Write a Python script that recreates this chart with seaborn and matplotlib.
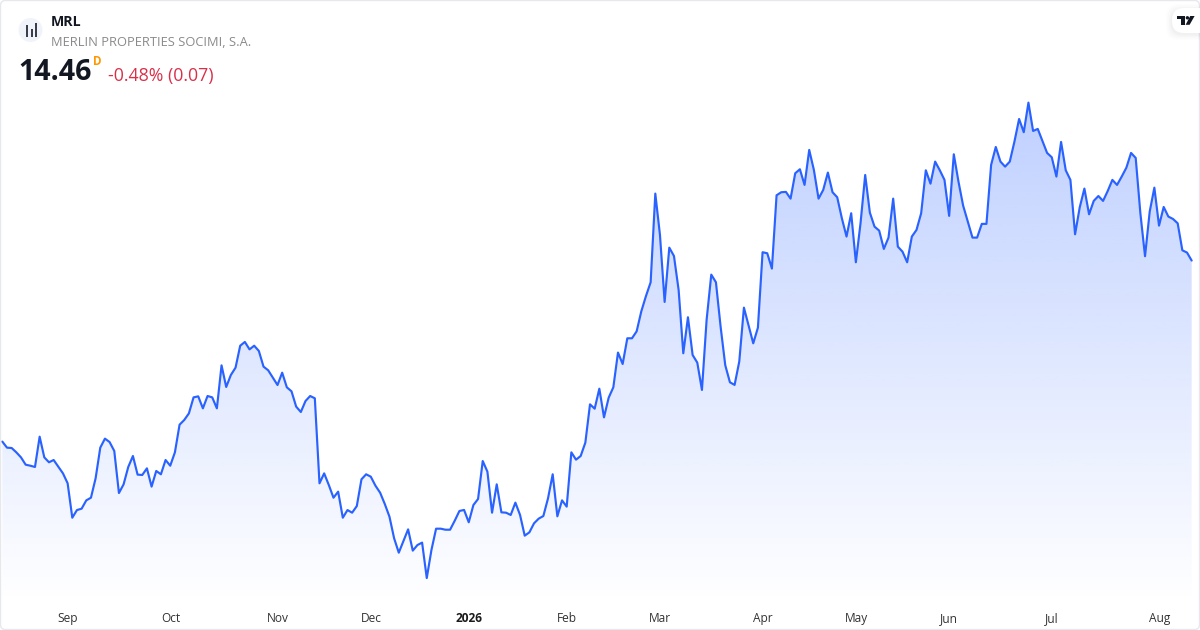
import numpy as np
import pandas as pd
import matplotlib
matplotlib.use("Agg")
import matplotlib.pyplot as plt
import seaborn as sns
from matplotlib.patches import Rectangle, Circle, Polygon, FancyBboxPatch
from matplotlib.transforms import Affine2D
from matplotlib.colors import to_rgb

# ---- data -------------------------------------------------------------
ticker = "MRL"
company = "MERLIN PROPERTIES SOCIMI, S.A."
last_price = "14.46"
interval = "D"
change_text = "-0.48% (0.07)"
prices = [
    12.877,12.824,12.821,12.783,12.739,12.675,12.666,12.655,12.920,12.739,12.696,12.716,12.658,12.599,12.512,
    12.211,12.278,12.290,12.363,12.386,12.556,12.824,12.903,12.873,12.795,12.427,12.503,12.655,12.751,12.588,
    12.585,12.643,12.483,12.620,12.591,12.716,12.666,12.783,13.025,13.066,13.124,13.264,13.273,13.168,13.276,
    13.264,13.168,13.544,13.355,13.460,13.524,13.716,13.749,13.684,13.716,13.670,13.533,13.501,13.436,13.372,
    13.480,13.352,13.317,13.183,13.136,13.232,13.276,13.256,12.512,12.599,12.497,12.386,12.439,12.211,12.278,
    12.255,12.313,12.547,12.591,12.570,12.491,12.430,12.331,12.220,12.031,
    11.905,12.007,12.109,11.923,11.972,11.993,11.683,11.928,12.115,12.115,12.106,12.106,12.185,12.270,12.279,
    12.171,12.322,12.375,12.707,12.614,12.255,12.503,12.258,12.255,12.235,12.343,12.235,12.054,12.083,12.162,
    12.203,12.226,12.381,12.591,12.223,12.363,12.308,12.783,12.719,12.751,12.868,13.203,13.165,13.340,13.089,
    13.261,13.352,
    13.656,13.556,13.781,13.781,13.842,14.017,14.151,14.271,15.047,14.685,14.099,14.574,14.501,14.204,13.650,
    13.965,13.635,13.568,13.329,13.942,14.338,14.271,13.883,13.545,13.396,13.373,13.577,14.049,13.892,13.737,
    13.874,14.534,14.525,14.391,15.032,15.059,15.062,15.003,15.225,15.260,15.123,15.429,15.254,15.003,15.079,
    15.231,15.059,15.015,14.831,14.671,14.875,14.446,14.787,15.210,14.881,14.758,14.723,
    14.563,14.662,15.003,14.583,14.539,14.446,14.671,14.729,14.875,15.251,15.134,15.327,15.251,15.167,14.852,
    15.391,15.152,14.942,14.802,14.662,14.662,14.782,14.782,15.298,15.455,15.327,15.283,15.327,15.502,15.700,
    15.584,15.843,15.595,15.613,15.508,15.403,15.365,15.196,15.499,15.251,15.167,14.691,14.927,15.091,14.866,
    14.983,15.026,14.983,15.070,15.167,15.123,15.196,15.274,15.403,15.359,14.875,14.499,14.889,15.099,14.767,
    14.930,14.846,14.825,14.787,14.551,14.531,14.461,
]
tick_labels = ["Sep", "Oct", "Nov", "Dec", "2026", "Feb", "Mar", "Apr", "May", "Jun", "Jul", "Aug"]
tick_sessions = [14, 36, 59, 79, 100, 121, 141, 163, 183, 203, 225, 248]

# ---- style ------------------------------------------------------------
sns.set_theme(style="white")
plt.rcParams["font.family"] = ["Open Sans", "DejaVu Sans"]
LINE = "#2962FF"
W, H = 1200, 630
AX_BOTTOM = 604

df = pd.DataFrame({"session": np.arange(len(prices)), "price": prices})

fig = plt.figure(figsize=(12, 6.3), dpi=100, facecolor="white")
ax = fig.add_axes([0, (H - AX_BOTTOM) / H, 1, AX_BOTTOM / H])
ax.set_facecolor("none")

xlim = (-0.5, 256.785)
ylim = (11.456, 16.741)

# gradient area under the line
poly = ax.fill_between(df["session"], df["price"], ylim[0], color="none", lw=0)
rgb = to_rgb(LINE)
n = 256
grad = np.zeros((n, 1, 4))
grad[..., 0], grad[..., 1], grad[..., 2] = rgb
price_axis = np.linspace(ylim[1], ylim[0], n)
top_p, bot_p = max(prices), ylim[0]
grad[:, 0, 3] = np.clip(0.30 * (price_axis - bot_p) / (top_p - bot_p), 0, 0.30)
im = ax.imshow(grad, extent=(xlim[0], xlim[1], ylim[0], ylim[1]), aspect="auto", origin="upper",
               interpolation="bilinear", zorder=1)
im.set_clip_path(poly.get_paths()[0], transform=ax.transData)

sns.lineplot(data=df, x="session", y="price", color=LINE, linewidth=1.55, ax=ax, zorder=3,
             errorbar=None, solid_joinstyle="round")

ax.set_xlim(*xlim)
ax.set_ylim(*ylim)
ax.set_xlabel("")
ax.set_ylabel("")
ax.set_yticks([])
ax.set_xticks([s + 0.05 for s in tick_sessions])
ax.set_xticklabels(tick_labels, fontsize=8.6, color="#333333", va="baseline")
ax.tick_params(axis="x", length=0, pad=12.9)
for lab in ax.get_xticklabels():
    if lab.get_text() == "2026":
        lab.set_fontweight("bold")
        lab.set_color("#1b1b1b")
for s in ax.spines.values():
    s.set_visible(False)

# ---- overlay in pixel coordinates ---------------------------------------
px = Affine2D().scale(1 / W, -1 / H).translate(0, 1) + fig.transFigure

# card border
fig.add_artist(FancyBboxPatch((0.5, 0.5), W - 1, H - 1, boxstyle="round,pad=0,rounding_size=5",
                              fc="none", ec="#e6e8ee", lw=1.0, transform=px, zorder=5))

# symbol icon
fig.add_artist(Circle((30.5, 30), 12, fc="#f0f3fa", ec="none", transform=px, zorder=6))
for x0, y0, y1 in [(26, 24.5, 36.7), (30.6, 28.5, 36.7), (35, 23.3, 36.7)]:
    fig.add_artist(Rectangle((x0, y0), 2.2, y1 - y0, fc="#3a3e4a", ec="none", transform=px, zorder=7))

# header text
fig.text(51, 22, ticker, transform=px, fontsize=10.2, fontweight="bold", color="#131722",
         va="center", ha="left", zorder=7)
fig.text(51, 42, company, transform=px, fontsize=9.25, color="#8a8a8a", va="center", ha="left", zorder=7)
fig.text(18, 73, last_price, transform=px, fontsize=20.6, fontweight="bold", color="#131722",
         va="center", ha="left", zorder=7)
fig.text(93, 61.5, interval, transform=px, fontsize=8.4, fontweight="bold", color="#ff9800",
         va="center", ha="left", zorder=7)
fig.text(108, 76, change_text, transform=px, fontsize=12.75, color="#d9304a", va="center", ha="left", zorder=7)

# logo pill with soft shadow
for grow, a in [(6, 0.008), (4.5, 0.012), (3, 0.016), (1.5, 0.02)]:
    fig.add_artist(FancyBboxPatch((1172 - grow, 10 - grow), 60 + grow, 24 + 2 * grow,
                                  boxstyle="round,pad=0,rounding_size=12", fc="black", ec="none",
                                  alpha=a, transform=px, zorder=6))
fig.add_artist(FancyBboxPatch((1172, 8), 60, 25, boxstyle="round,pad=0,rounding_size=12",
                              fc="white", ec="none", transform=px, zorder=6.5))
logo = "#131722"
fig.add_artist(Rectangle((1176.8, 16), 8.4, 3.4, fc=logo, ec="none", transform=px, zorder=7))
fig.add_artist(Rectangle((1180.6, 19), 4.4, 5.8, fc=logo, ec="none", transform=px, zorder=7))
fig.add_artist(Circle((1187.4, 17.8), 1.7, fc=logo, ec="none", transform=px, zorder=7))
fig.add_artist(Polygon([(1190.2, 16), (1194.6, 16), (1189.6, 24.8), (1185.6, 24.8)], closed=True, fc=logo, ec="none",
                       transform=px, zorder=7))

fig.savefig("out.png", dpi=100, facecolor="white")
